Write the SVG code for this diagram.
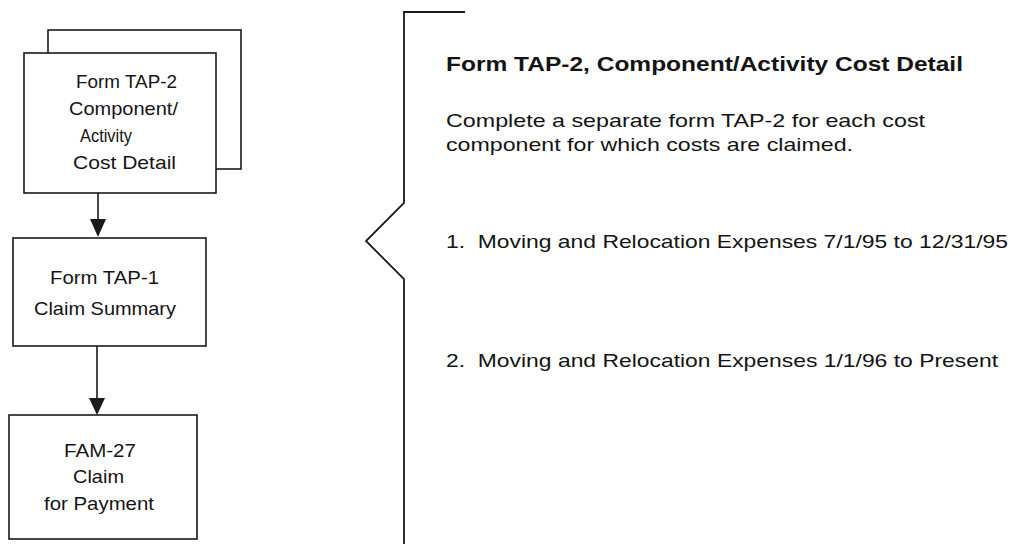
<svg xmlns="http://www.w3.org/2000/svg" width="1013" height="544" viewBox="0 0 1013 544">
  <style>
    .box { fill: #fff; stroke: #1a1a1a; stroke-width: 1.6; }
    .bt { font-family: "Liberation Sans", Arial, sans-serif; font-size: 18.5px; fill: #141414; }
    .rt { font-family: "Liberation Sans", Arial, sans-serif; font-size: 19px; fill: #141414; }
    .rtb { font-family: "Liberation Sans", Arial, sans-serif; font-size: 19.5px; font-weight: bold; fill: #141414; }
    .conn { stroke: #1a1a1a; stroke-width: 1.6; fill: none; }
  </style>
  <defs>
    <marker id="arr" markerUnits="userSpaceOnUse" markerWidth="18" markerHeight="18" refX="8" refY="17" orient="auto-start-reverse" viewBox="0 0 16 18">
      <path d="M0,0 L16,0 L8,17 Z" fill="#1a1a1a"/>
    </marker>
  </defs>
  <rect width="1013" height="544" fill="#fff"/>

  <g id="tap2">
    <rect class="box" x="48" y="30" width="193" height="139"/>
    <rect class="box" x="24" y="53" width="192" height="140"/>
    <text class="bt" x="76" y="88" textLength="101" lengthAdjust="spacingAndGlyphs">Form TAP-2</text>
    <text class="bt" x="69" y="115" textLength="109" lengthAdjust="spacingAndGlyphs">Component/</text>
    <text class="bt" x="80" y="142" textLength="52" lengthAdjust="spacingAndGlyphs">Activity</text>
    <text class="bt" x="73" y="169" textLength="103" lengthAdjust="spacingAndGlyphs">Cost Detail</text>
  </g>

  <g id="tap1">
    <rect class="box" x="13" y="238" width="193" height="108"/>
    <text class="bt" x="50" y="284" textLength="109" lengthAdjust="spacingAndGlyphs">Form TAP-1</text>
    <text class="bt" x="34" y="315" textLength="142" lengthAdjust="spacingAndGlyphs">Claim Summary</text>
  </g>

  <g id="fam27">
    <rect class="box" x="9" y="415" width="188" height="124"/>
    <text class="bt" x="64" y="457" textLength="72" lengthAdjust="spacingAndGlyphs">FAM-27</text>
    <text class="bt" x="73" y="483" textLength="51" lengthAdjust="spacingAndGlyphs">Claim</text>
    <text class="bt" x="44" y="510" textLength="110" lengthAdjust="spacingAndGlyphs">for Payment</text>
  </g>

  <g id="connectors">
    <path class="conn" d="M98,193 L98,220"/>
    <path d="M90,219 L106,219 L98,237 Z" fill="#1a1a1a"/>
    <path class="conn" d="M97,346 L97,399"/>
    <path d="M89,398 L105,398 L97,415 Z" fill="#1a1a1a"/>
  </g>

  <g id="bracket">
    <path d="M465,12 L404,12 L404,203 L366,241 L404,279 L404,544" fill="none" stroke="#1a1a1a" stroke-width="1.8" stroke-linejoin="miter"/>
  </g>

  <g id="description">
    <text class="rtb" x="446" y="71" textLength="517" lengthAdjust="spacingAndGlyphs">Form TAP-2, Component/Activity Cost Detail</text>
    <text class="rt" x="446" y="127" textLength="479" lengthAdjust="spacingAndGlyphs">Complete a separate form TAP-2 for each cost</text>
    <text class="rt" x="446" y="151" textLength="407" lengthAdjust="spacingAndGlyphs">component for which costs are claimed.</text>
    <text class="rt" x="446" y="248" textLength="562" lengthAdjust="spacingAndGlyphs" xml:space="preserve">1.  Moving and Relocation Expenses 7/1/95 to 12/31/95</text>
    <text class="rt" x="446" y="367" textLength="552" lengthAdjust="spacingAndGlyphs" xml:space="preserve">2.  Moving and Relocation Expenses 1/1/96 to Present</text>
  </g>
</svg>
